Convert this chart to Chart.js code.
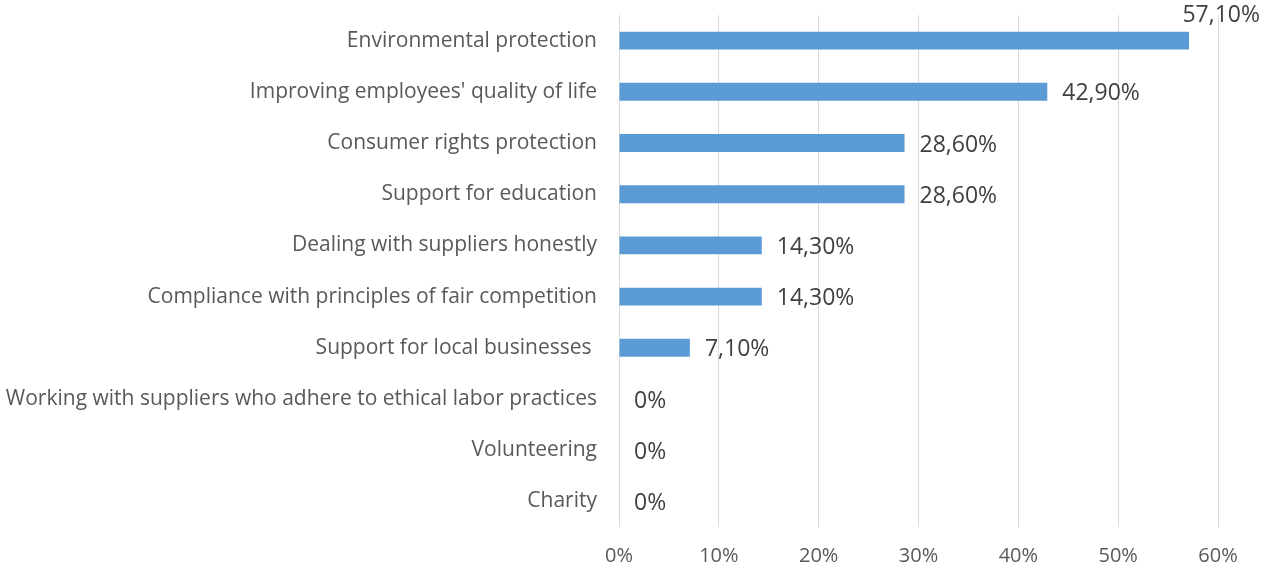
<!DOCTYPE html>
<html>
<head>
<meta charset="utf-8">
<script src="https://cdn.jsdelivr.net/npm/chart.js"></script>
<style>
  html, body { margin: 0; padding: 0; background: #fff; }
  #wrap { width: 1262px; height: 569px; }
</style>
</head>
<body>
<div id="wrap"><canvas id="chart" width="1262" height="569"></canvas></div>
<script>
const categories = [
    "Environmental protection",
    "Improving employees' quality of life",
    "Consumer rights protection",
    "Support for education",
    "Dealing with suppliers honestly",
    "Compliance with principles of fair competition",
    "Support for local businesses ",
    "Working with suppliers who adhere to ethical labor practices",
    "Volunteering",
    "Charity"
];
const shares = [57.1, 42.9, 28.6, 28.6, 14.3, 14.3, 7.1, 0, 0, 0];
const xTicks = [0, 10, 20, 30, 40, 50, 60];

const FONT = "'Open Sans', sans-serif";

function fmtLabel(v) {
    if (v === 0) return "0%";
    return v.toFixed(2).replace(".", ",") + "%";
}

// value labels at the bar ends, pushed up when they would run off the canvas
const barLabels = {
    id: "barLabels",
    afterDatasetsDraw(chart) {
        const ctx = chart.ctx;
        const meta = chart.getDatasetMeta(0);
        ctx.save();
        ctx.font = "23px " + FONT;
        ctx.fillStyle = "#404040";
        ctx.textBaseline = "middle";
        meta.data.forEach((bar, i) => {
            const txt = fmtLabel(shares[i]);
            const w = ctx.measureText(txt).width;
            let x = bar.x + 15;
            let y = bar.y + 2;
            if (x + w > chart.width - 2) {
                x = chart.width - 2 - w;
                y = bar.y - 25;
            }
            ctx.fillText(txt, x, y);
        });
        ctx.restore();
    }
};

new Chart(document.getElementById("chart"), {
    type: "bar",
    data: {
        labels: categories,
        datasets: [{
            data: shares,
            backgroundColor: "#5b9bd5",
            barPercentage: 0.7,
            categoryPercentage: 0.5
        }]
    },
    options: {
        indexAxis: "y",
        responsive: false,
        animation: false,
        layout: { padding: { top: 15, right: 44, bottom: 0, left: 0 } },
        plugins: {
            legend: { display: false },
            tooltip: { enabled: false }
        },
        scales: {
            x: {
                min: 0,
                max: 60,
                afterBuildTicks(scale) {
                    scale.ticks = xTicks.map(v => ({ value: v }));
                },
                afterFit(scale) { scale.height = 42; },
                grid: { color: "#d9d9d9", lineWidth: 1, drawTicks: false },
                border: { display: false },
                ticks: {
                    padding: 17,
                    color: "#595959",
                    font: { family: FONT, size: 20 },
                    callback: v => v + "%"
                }
            },
            y: {
                afterFit(scale) {
                    scale.width = 619;
                    scale.paddingTop = 0;
                    scale.paddingBottom = 0;
                },
                grid: { display: false, drawTicks: false },
                border: { display: false },
                ticks: {
                    padding: 22,
                    color: "#595959",
                    font: { family: FONT, size: 21 }
                }
            }
        }
    },
    plugins: [barLabels]
});
</script>
</body>
</html>
